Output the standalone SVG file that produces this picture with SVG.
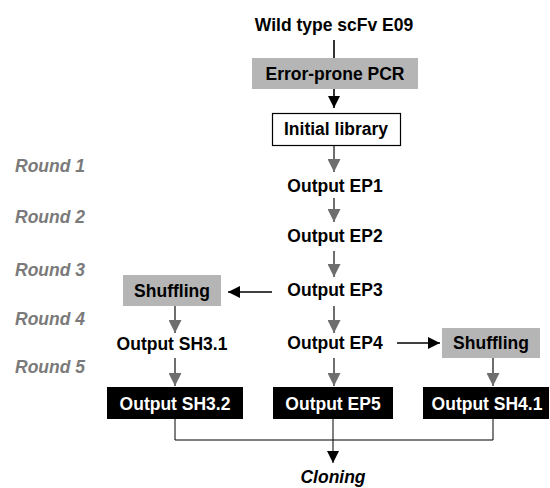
<svg xmlns="http://www.w3.org/2000/svg" width="550" height="488" viewBox="0 0 550 488">
<defs>
<style>
.t{font-family:"Liberation Sans",Arial,sans-serif;font-weight:bold;font-size:17.5px;text-anchor:middle;fill:#000}
.w{fill:#fff}
.r{font-family:"Liberation Sans",Arial,sans-serif;font-weight:bold;font-style:italic;font-size:17.5px;fill:#7a7a7a}
.gray{fill:#b5b5b5}
.blk{fill:#000}
.lb{stroke:#000;stroke-width:1.6;fill:none}
.lg{stroke:#6e6e6e;stroke-width:2;fill:none}
.thin{stroke:#000;stroke-width:1;fill:none}
</style>
<marker id="ab" viewBox="0 0 10 10" refX="10" refY="5" markerWidth="6" markerHeight="6" markerUnits="userSpaceOnUse" orient="auto"><path d="M0,0 L10,5 L0,10 z" fill="#000"/></marker>
<marker id="ag" viewBox="0 0 10 10" refX="10" refY="5" markerWidth="7" markerHeight="7" markerUnits="userSpaceOnUse" orient="auto"><path d="M0,0 L10,5 L0,10 z" fill="#6e6e6e"/></marker>
<marker id="abs" viewBox="0 0 10 10" refX="10" refY="5" markerWidth="12" markerHeight="12" markerUnits="userSpaceOnUse" orient="auto"><path d="M0,0 L10,5 L0,10 z" fill="#000"/></marker>
<marker id="ags" viewBox="0 0 10 10" refX="10" refY="5" markerWidth="13" markerHeight="13" markerUnits="userSpaceOnUse" orient="auto"><path d="M0,0 L10,5 L0,10 z" fill="#6e6e6e"/></marker>
</defs>
<rect width="550" height="488" fill="#fff"/>
<g id="rounds">
<text class="r" x="15" y="172">Round 1</text>
<text class="r" x="15" y="223">Round 2</text>
<text class="r" x="15" y="276">Round 3</text>
<text class="r" x="15" y="325">Round 4</text>
<text class="r" x="15" y="373">Round 5</text>
</g>
<g id="connectors">
<line class="lb" x1="334" y1="40" x2="334" y2="58"/>
<line class="lb" x1="334" y1="89" x2="334" y2="108" marker-end="url(#abs)"/>
<line class="lg" x1="334" y1="146" x2="334" y2="172" marker-end="url(#ags)"/>
<line class="lg" x1="334" y1="198" x2="334" y2="222" marker-end="url(#ags)"/>
<line class="lg" x1="334" y1="251" x2="334" y2="277" marker-end="url(#ags)"/>
<line class="lg" x1="334" y1="306" x2="334" y2="333" marker-end="url(#ags)"/>
<line class="lg" x1="334" y1="358" x2="334" y2="386" marker-end="url(#ags)"/>
<line class="lb" x1="272" y1="292" x2="228" y2="292" marker-end="url(#abs)"/>
<line class="lb" x1="397" y1="343" x2="440" y2="343" marker-end="url(#abs)"/>
<line class="lg" x1="175" y1="306" x2="175" y2="333" marker-end="url(#ags)"/>
<line class="lg" x1="175" y1="358" x2="175" y2="386" marker-end="url(#ags)"/>
<line class="lg" x1="493" y1="358" x2="493" y2="386" marker-end="url(#ags)"/>
<polyline class="thin" points="175,419 175,440 493,440 493,419"/>
<line class="thin" x1="333" y1="419" x2="333" y2="463" marker-end="url(#abs)"/>
</g>
<g id="wild"><text class="t" x="334" y="31">Wild type scFv E09</text></g>
<g id="epcr"><rect class="gray" x="252" y="58" width="166" height="31"/><text class="t" x="335" y="80">Error-prone PCR</text></g>
<g id="initial"><rect x="272.5" y="113.5" width="128" height="32" fill="#fff" stroke="#000" stroke-width="1.2"/><text class="t" x="336" y="135">Initial library</text></g>
<g id="ep1"><text class="t" x="335" y="192">Output EP1</text></g>
<g id="ep2"><text class="t" x="335" y="242">Output EP2</text></g>
<g id="ep3"><text class="t" x="335" y="296">Output EP3</text></g>
<g id="ep4"><text class="t" x="335" y="349">Output EP4</text></g>
<g id="shuf1"><rect class="gray" x="123" y="275" width="98" height="31"/><text class="t" x="172" y="297">Shuffling</text></g>
<g id="sh31"><text class="t" x="172" y="350">Output SH3.1</text></g>
<g id="shuf2"><rect class="gray" x="442" y="328" width="98" height="30"/><text class="t" x="491" y="349">Shuffling</text></g>
<g id="sh32"><rect class="blk" x="107" y="387" width="136" height="32"/><text class="t w" x="175" y="410">Output SH3.2</text></g>
<g id="ep5"><rect class="blk" x="273" y="387" width="120" height="32"/><text class="t w" x="333" y="410">Output EP5</text></g>
<g id="sh41"><rect class="blk" x="423" y="387" width="126" height="32"/><text class="t w" x="487" y="410">Output SH4.1</text></g>
<g id="cloning"><text class="t" x="333" y="483" font-style="italic" font-size="16px">Cloning</text></g>
</svg>
